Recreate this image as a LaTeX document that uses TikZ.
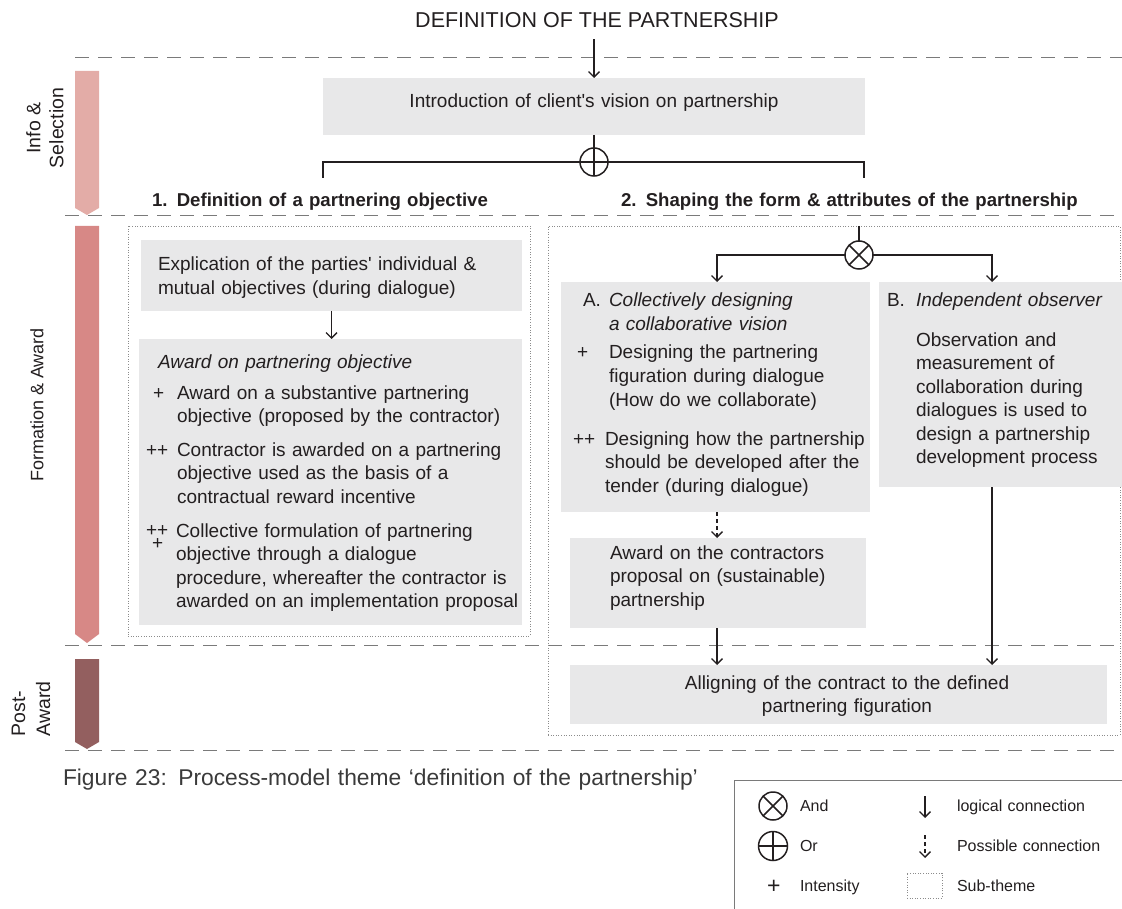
\documentclass[tikz,border=0pt]{standalone}
\usepackage{fontspec}
\setmainfont{Liberation Sans}[Ligatures=TeXOff]
\usetikzlibrary{arrows.meta,calc}
\definecolor{boxgray}{HTML}{E8E8E9}
\definecolor{ink}{HTML}{231F20}
\definecolor{rulegray}{HTML}{7A7A7A}
\definecolor{dotgray}{HTML}{8C8C8C}
\definecolor{capgray}{HTML}{3A3A3A}
\definecolor{phaseA}{HTML}{E3ACA7}
\definecolor{phaseB}{HTML}{D78886}
\definecolor{phaseC}{HTML}{935F5F}
\newcommand{\bodyfont}{\fontsize{19}{23.6}\selectfont}
\newcommand{\legfont}{\fontsize{16}{19}\selectfont}
\begin{document}
\begin{tikzpicture}[x=1pt,y=-1pt,
  gbox/.style={fill=boxgray, inner sep=0pt, outer sep=0pt, anchor=north west},
  txt/.style={inner sep=0pt, outer sep=0pt, anchor=base west, align=left,
    text width=#1, text=ink, font=\bodyfont},
  txt/.default=360pt,
  ctxt/.style={txt=#1, anchor=base, align=center},
  ctxt/.default=560pt,
  itxt/.style={txt, font=\bodyfont\itshape},
  head/.style={txt=520pt, font=\fontsize{18.6}{22}\selectfont\bfseries},
  phase/.style={rotate=90, inner sep=0pt, text=ink},
  line/.style={draw=ink, line width=1.3pt},
  conn/.style={line, -{Straight Barb[length=5.5pt,width=11pt,line width=1.3pt]}},
  possible/.style={conn, dash pattern=on 4pt off 3pt},
  sep/.style={draw=rulegray, line width=1pt, dash pattern=on 14pt off 9pt},
  subtheme/.style={draw=dotgray, line width=0.8pt, dash pattern=on 1pt off 1.6pt,
    inner sep=0pt, outer sep=0pt, anchor=north west},
  gate/.style={circle, draw=ink, line width=1.5pt, minimum size=#1,
    inner sep=0pt, outer sep=0pt},
  gate/.default=28pt,
  andgate/.style={gate=#1, path picture={
    \draw[ink, line width=1.5pt]
      ([shift={(45:20pt)}]path picture bounding box.center) --
      ([shift={(225:20pt)}]path picture bounding box.center)
      ([shift={(135:20pt)}]path picture bounding box.center) --
      ([shift={(315:20pt)}]path picture bounding box.center);}},
  andgate/.default=28pt,
  orgate/.style={gate=#1, path picture={
    \draw[ink, line width=1.5pt]
      (path picture bounding box.north) -- (path picture bounding box.south)
      (path picture bounding box.west) -- (path picture bounding box.east);}},
  orgate/.default=28pt,
  legtxt/.style={txt=200pt, font=\legfont},
]
\useasboundingbox (0,0) rectangle (1122,909);

% phase separators
\draw[sep] (75,58) -- (1122,58);
\draw[sep] (65,216) -- (1122,216);
\draw[sep] (65,645) -- (1122,645);
\draw[sep] (65,750) -- (1122,750);

% phase bars
\fill[phaseA] (75,71) -- (99,71) -- (99,208) -- (87,215) -- (75,208) -- cycle;
\fill[phaseB] (75,226) -- (99,226) -- (99,634) -- (87,643) -- (75,634) -- cycle;
\fill[phaseC] (75,659) -- (99,659) -- (99,742) -- (87,749) -- (75,742) -- cycle;

% phase labels
\node[phase, align=center, font=\fontsize{19.5}{23}\selectfont] (lblinfo) at (45,128) {Info \&\\Selection};
\node[phase, font=\fontsize{18}{22}\selectfont] (lblform) at (37,405) {Formation \& Award};
\node[phase, align=left, font=\fontsize{19.5}{25}\selectfont] (lblpost) at (31,709) {Post-\\Award};

% title and client's vision
\node[inner sep=0pt, anchor=base, text=ink, font=\fontsize{21.5}{25}\selectfont]
  (title) at (597,28) {DEFINITION OF THE PARTNERSHIP};
\node[gbox, minimum width=542pt, minimum height=57pt] (intro) at (323,78) {};
\node[ctxt] (introtxt) at (594,108) {Introduction of client's vision on partnership};
\draw[conn] ($(title.south -| intro.north)+(0,11)$) -- (intro.north);

% or-split into the two sub-themes
\node[orgate] (or1) at (594,162) {};
\coordinate (brL) at (323,178);
\coordinate (brR) at (864,178);
\draw[line] (intro.south) -- (or1.north);
\draw[line] (or1.west) -- (brL |- or1) -- (brL);
\draw[line] (or1.east) -- (brR |- or1) -- (brR);

\node[head] (h1) at (152,207) {1. Definition of a partnering objective};
\node[head] (h2) at (621,207) {2. Shaping the form \& attributes of the partnership};

% sub-theme frames
\node[subtheme, minimum width=402pt, minimum height=410pt] (sub1) at (128,226) {};
\node[subtheme, minimum width=572pt, minimum height=509pt] (sub2) at (548,226) {};

% sub-theme 1
\node[gbox, minimum width=381pt, minimum height=71pt] (expl) at (141,240) {};
\node[txt] (expltxt) at (158,271) {Explication of the parties' individual \&\\mutual objectives (during dialogue)};
\node[gbox, minimum width=383pt, minimum height=286pt] (award) at (139,339) {};
\draw[conn] (expl.south) -- (expl.south |- award.north);

\node[itxt] (awardttl) at (158,368) {Award on partnering objective};
\node[txt=30pt] (p1) at (153,399) {+};
\node[txt] (item1) at (177,399) {Award on a substantive partnering\\objective (proposed by the contractor)};
\node[txt=30pt] (p2) at (146,456) {++};
\node[txt] (item2) at (177,456) {Contractor is awarded on a partnering\\objective used as the basis of a\\contractual reward incentive};
\node[txt=30pt] (p3a) at (146,536) {++};
\node[txt=30pt] (p3b) at (152,549) {+};
\node[txt] (item3) at (176,537) {Collective formulation of partnering\\objective through a dialogue\\procedure, whereafter the contractor is\\awarded on an implementation proposal};

% sub-theme 2: and-split
\coordinate (sub2top) at (859,226);
\node[andgate] (and1) at (859,255) {};
\coordinate (aL) at (717,255);
\coordinate (aR) at (992,255);
\node[gbox, minimum width=309pt, minimum height=230pt] (boxA) at (561,282) {};
\node[gbox, minimum width=243pt, minimum height=205pt] (boxB) at (879,282) {};
\draw[line] (sub2top) -- (and1.north);
\draw[conn] (and1.west) -- (aL) -- (aL |- boxA.north);
\draw[conn] (and1.east) -- (aR) -- (aR |- boxB.north);

\node[txt=30pt] (aLbl) at (583,307) {A.};
\node[itxt] (aTtl) at (609,307) {Collectively designing\\a collaborative vision};
\node[txt=30pt] (aP1) at (577,359) {+};
\node[txt] (aItem1) at (609,359) {Designing the partnering\\figuration during dialogue\\(How do we collaborate)};
\node[txt=30pt] (aP2) at (573,445) {++};
\node[txt] (aItem2) at (605,445) {Designing how the partnership\\should be developed after the\\tender (during dialogue)};

\node[txt=30pt] (bLbl) at (887,307) {B.};
\node[itxt] (bTtl) at (916,307) {Independent observer};
\node[txt] (bBody) at (916,346) {Observation and\\measurement of\\collaboration during\\dialogues is used to\\design a partnership\\development process};

\node[gbox, minimum width=296pt, minimum height=90pt] (awc) at (570,538) {};
\node[txt] (awctxt) at (610,559) {Award on the contractors\\proposal on (sustainable)\\partnership};
\draw[possible] (aL |- boxA.south) -- (aL |- awc.north);

% post-award
\node[gbox, minimum width=537pt, minimum height=59pt] (allign) at (570,665) {};
\node[ctxt] (alligntxt) at (847,689) {Alligning of the contract to the defined\\partnering figuration};
\draw[conn] (aL |- awc.south) -- (aL |- allign.north);
\draw[conn] (aR |- boxB.south) -- (aR |- allign.north);

% caption
\node[txt=700pt, font=\fontsize{22.8}{26}\selectfont, text=capgray] (caption) at (63,785)
  {Figure 23: Process-model theme ‘definition of the partnership’};

% legend
\node[draw=rulegray, line width=1pt, inner sep=0pt, anchor=north west,
  minimum width=400pt, minimum height=140pt] (legend) at (734,780) {};
\node[andgate=28pt] (lgAnd) at (773,806) {};
\node[legtxt] (lgAndTxt) at (800,811) {And};
\node[orgate=29pt] (lgOr) at (773,846) {};
\node[legtxt] (lgOrTxt) at (800,851) {Or};
\node[txt=30pt, font=\fontsize{23}{25}\selectfont] (lgPlus) at (767,893) {+};
\node[legtxt] (lgIntTxt) at (800,891) {Intensity};
\coordinate (lgA1) at (925,796);
\coordinate (lgA2) at (925,818);
\draw[conn] (lgA1) -- (lgA2);
\node[legtxt] (lgLogTxt) at (957,811) {logical connection};
\coordinate (lgP1) at (925,835);
\coordinate (lgP2) at (925,858);
\draw[possible] (lgP1) -- (lgP2);
\node[legtxt] (lgPosTxt) at (957,851) {Possible connection};
\node[subtheme, minimum width=35pt, minimum height=25pt] (lgSub) at (907,873) {};
\node[legtxt] (lgSubTxt) at (957,891) {Sub-theme};
\end{tikzpicture}
\end{document}
